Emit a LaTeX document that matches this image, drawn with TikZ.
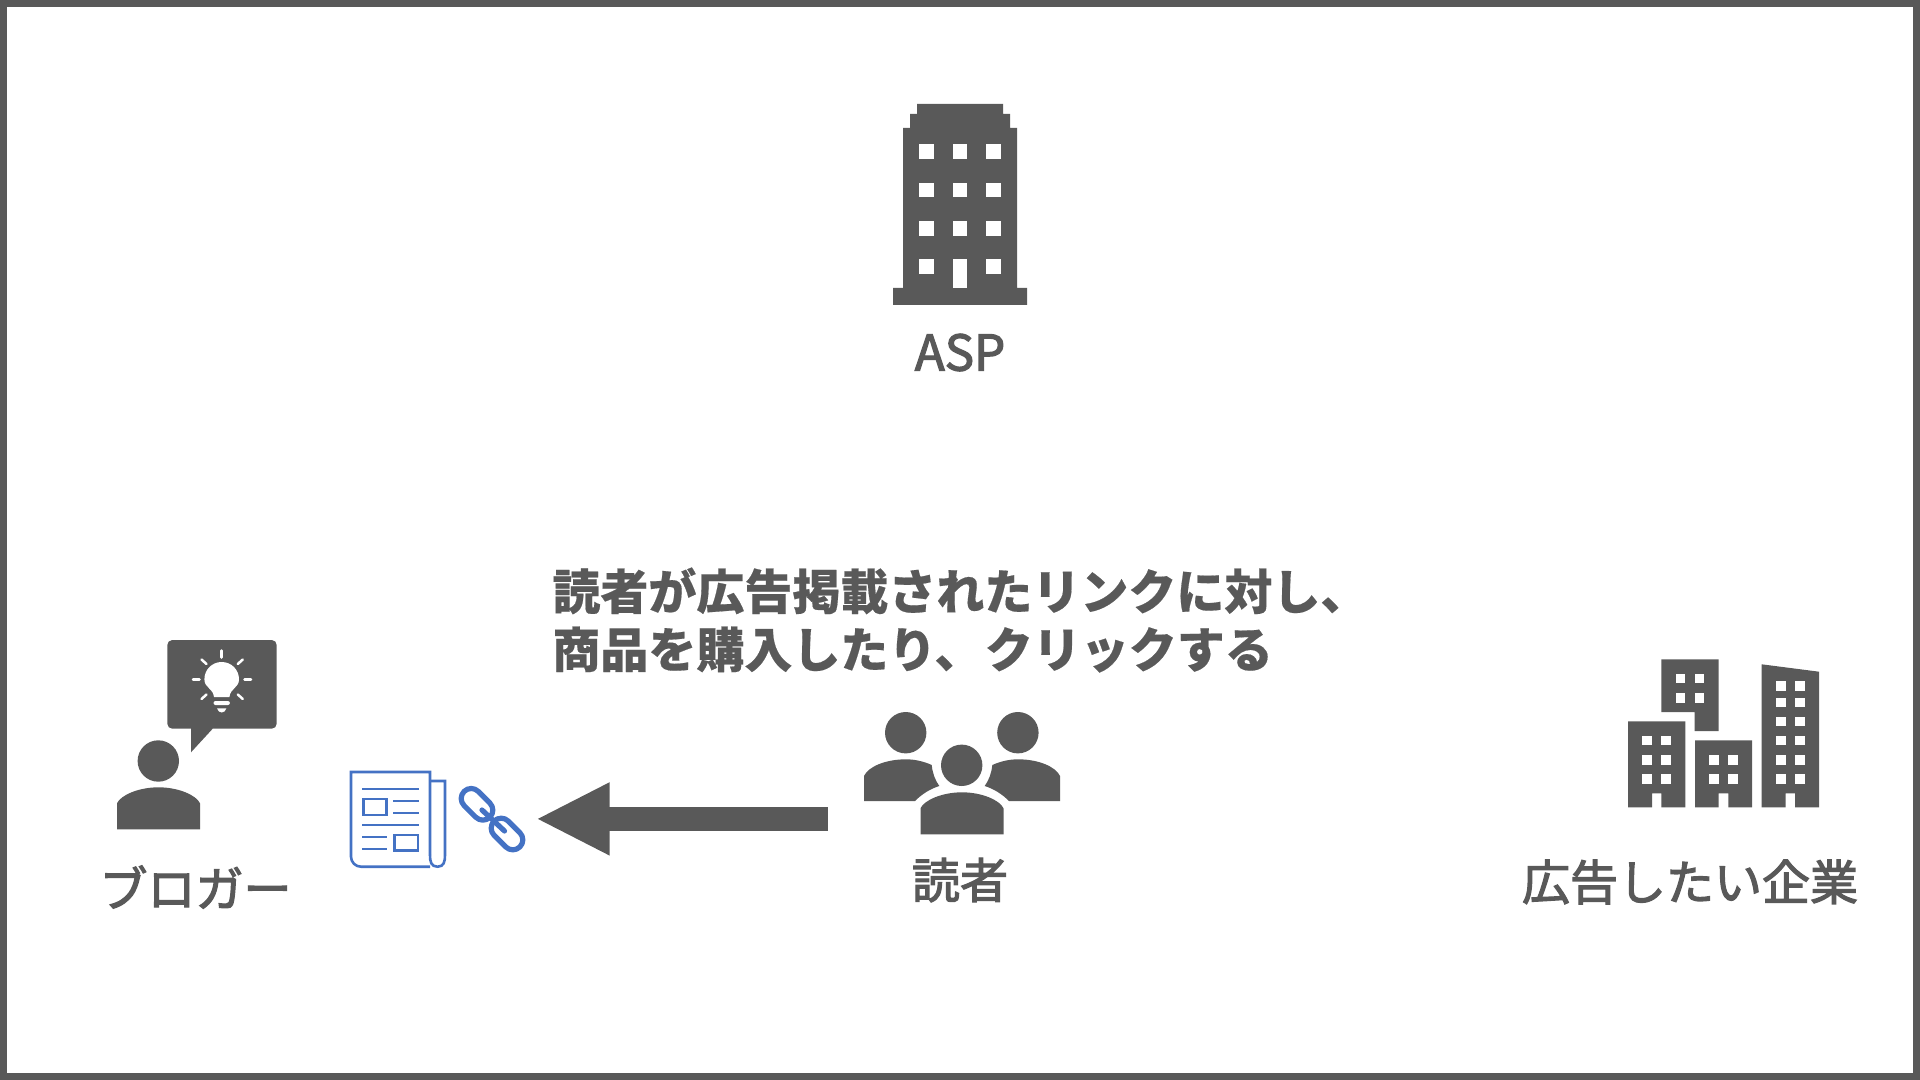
\documentclass[tikz,border=0pt]{standalone}
\usepackage{fontspec}
\usetikzlibrary{arrows.meta}
\newfontfamily\jpfont[FakeBold=0.35]{Noto Sans CJK JP}
\newfontfamily\jplabelfont[FakeBold=2.5]{Noto Sans CJK JP}
\definecolor{ink}{HTML}{595959}
\definecolor{linkblue}{HTML}{4472C4}
\tikzset{
  inkfill/.style={fill=ink,draw=none},
  hole/.style={fill=white,draw=none},
  label/.style={inner sep=0pt,text=ink,font=\jplabelfont\fontsize{24}{29}\selectfont},
  boldlabel/.style={inner sep=0pt,text=ink,align=left,font=\jpfont\bfseries\fontsize{24}{29}\selectfont},
  paper/.style={draw=linkblue,line width=1.3pt,fill=none,line join=miter},
  paperthin/.style={draw=linkblue,line width=1.2pt},
  chain/.style={draw=linkblue,line width=2.6pt,fill=none},
  ray/.style={draw=white,line width=1.25pt,line cap=round},
  blockarrow/.style={draw=ink,line width=12.15pt,-{Triangle[length=36.8pt,width=33.7pt,sep=0pt]}}
}
\newcommand{\personbody}[2]{% centre x, top y
  \fill[inkfill] (#1-41.5,#2+42) -- (#1-41.5,#2+16) .. controls (#1-38,#2+8) and (#1-20,#2) .. (#1,#2)
    .. controls (#1+20,#2) and (#1+38,#2+8) .. (#1+41.5,#2+16) -- (#1+41.5,#2+42) -- cycle;}
\newcommand{\chainring}[2]{%
  \draw[chain,line join=round] (#1+12.9,#2-1.24) .. controls (#1+16.8,#2+2.66) and (#1+16.8,#2+9) .. (#1+12.9,#2+12.9)
    .. controls (#1+9,#2+16.8) and (#1+2.66,#2+16.8) .. (#1-1.24,#2+12.9)
    -- (#1-12.9,#2+1.24) .. controls (#1-16.8,#2-2.66) and (#1-16.8,#2-9) .. (#1-12.9,#2-12.9)
    .. controls (#1-9,#2-16.8) and (#1-2.66,#2-16.8) .. (#1+1.24,#2-12.9) -- cycle;}
\begin{document}
\begin{tikzpicture}[x=0.5pt,y=-0.5pt]
\useasboundingbox (0,0) rectangle (1920,1080);
% frame
\draw[draw=ink,line width=3.5pt] (3.5,3.5) rectangle (1916.5,1076.5);

% ASP building
\fill[inkfill] (893,305) -- (893,288) -- (903,288) -- (903,128) -- (910,128) -- (910,114) -- (917,114) -- (917,104)
  -- (1003,104) -- (1003,114) -- (1010,114) -- (1010,128) -- (1017,128) -- (1017,288) -- (1027,288) -- (1027,305) -- cycle;
\foreach \wx in {919.3,952.7,986}{
  \foreach \wy in {144.5,182.7,220.8}{
    \fill[hole] (\wx,\wy) rectangle ++(14.7,14.8);
  }
}
\fill[hole] (919.3,259) rectangle ++(14.7,14.8);
\fill[hole] (986,259) rectangle ++(14.7,14.8);
\fill[hole] (952.7,259) rectangle (967.4,288);
\node[label,font=\jplabelfont\fontsize{24.6}{29}\selectfont] (asp) at (960,352.5) {ASP};

% Blogger
\fill[ink] (158.3,761) circle[radius=20.7];
\personbody{158.5}{787.3}
\fill[inkfill,rounded corners=2.5pt] (167.3,640) rectangle (276.7,728.7);
\fill[inkfill] (191,725) -- (191,752.3) -- (212.7,728.7) -- (212.7,725) -- cycle;
\fill[hole] (214,697) .. controls (213,688) and (204.4,688) .. (204.4,679.3)
  .. controls (204.4,669.7) and (212,662) .. (221.7,662)
  .. controls (231.4,662) and (239,669.7) .. (239,679.3)
  .. controls (239,688) and (230.4,688) .. (229.4,697) -- cycle;
\fill[hole,rounded corners=1pt] (213.5,701) rectangle (229.9,705);
\fill[hole] (217,708.3) -- (226.4,708.3) .. controls (225.5,711) and (224,712.5) .. (221.7,712.5) .. controls (219.4,712.5) and (218,711) .. (217,708.3) -- cycle;
\draw[ray] (221.7,650.5) -- (221.7,657.5);
\draw[ray] (193,679.3) -- (199.5,679.3);
\draw[ray] (244.5,679.3) -- (251,679.3);
\draw[ray] (201.5,659.5) -- (206.5,664);
\draw[ray] (242.8,659.5) -- (237.8,664);
\draw[ray] (201.5,699) -- (206.5,694.5);
\draw[ray] (242.8,699) -- (237.8,694.5);
\node[label] (blogger) at (195.5,887) {ブロガー};

% Newspaper
\draw[paper] (430,866.7) -- (361,866.7) .. controls (355.5,866.7) and (351,862.2) .. (351,856.7) -- (351,772) -- (430,772) -- (430,855);
\draw[paper] (430,781) -- (445,781) -- (445,855) .. controls (445,861.5) and (444,866.7) .. (437.5,866.7) .. controls (431,866.7) and (430,861.5) .. (430,855);
\draw[paperthin] (362,788.7) -- (419,788.7);
\draw[paper] (363.2,799) rectangle (386.2,815);
\draw[paperthin] (393.3,800.7) -- (419,800.7);
\draw[paperthin] (393.3,812.7) -- (419,812.7);
\draw[paperthin] (362,824.7) -- (419,824.7);
\draw[paperthin] (362,836.7) -- (387.3,836.7);
\draw[paperthin] (362,848.7) -- (387.3,848.7);
\draw[paper] (394.5,835) rectangle (418,850.7);

% Chain
\chainring{477}{804.3}
\chainring{507}{834}
\draw[chain,line cap=round] (482,810) -- (504.5,831);

% Arrow
\coordinate (arrowstart) at (827.7,818.9);
\coordinate (arrowend) at (536,818.9);
\draw[blockarrow] (arrowstart) -- (arrowend);

% Readers
\fill[ink] (905.7,732.7) circle[radius=20.7];
\fill[ink] (1017.9,732.7) circle[radius=20.7];
\fill[ink] (961.7,765.3) circle[radius=20.7];
\fill[inkfill] (864,801) -- (864,776) .. controls (868,767) and (885,759.3) .. (906,759.3)
  .. controls (915,759.3) and (924,761.5) .. (931.7,765) .. controls (932.5,773) and (935,780) .. (939.3,786)
  .. controls (930,789) and (922,794) .. (915,801) -- cycle;
\fill[inkfill] (1060,801) -- (1060,776) .. controls (1056,767) and (1039,759.3) .. (1018,759.3)
  .. controls (1009,759.3) and (1000,761.5) .. (992.3,765) .. controls (991.5,773) and (989,780) .. (984.7,786)
  .. controls (994,789) and (1002,794) .. (1009,801) -- cycle;
\personbody{962}{792.3}
\node[label] (readers) at (960,880) {読者};

% Companies
\fill[inkfill] (1628,807.3) -- (1628,721.3) -- (1685.3,721.3) -- (1685.3,807.3) -- (1661.3,807.3) -- (1661.3,793.3) -- (1652,793.3) -- (1652,807.3) -- cycle;
\foreach \wx in {1642.3,1661.3}{
  \foreach \wy in {735.7,755,774}{
    \fill[hole] (\wx,\wy) rectangle ++(9.7,9.6);
  }
}
\fill[inkfill] (1661.3,659.3) -- (1718.7,659.3) -- (1718.7,731) -- (1694.7,731) -- (1694.7,712) -- (1661.3,712) -- cycle;
\foreach \wx in {1675.7,1694.7}{
  \foreach \wy in {673.7,693}{
    \fill[hole] (\wx,\wy) rectangle ++(9.7,9.6);
  }
}
\fill[inkfill] (1695,807.3) -- (1695,740.3) -- (1752,740.3) -- (1752,807.3) -- (1728.3,807.3) -- (1728.3,793.3) -- (1718.7,793.3) -- (1718.7,807.3) -- cycle;
\foreach \wx in {1709.3,1728.3}{
  \foreach \wy in {755,774}{
    \fill[hole] (\wx,\wy) rectangle ++(9.7,9.6);
  }
}
\fill[inkfill] (1761.7,807.3) -- (1761.7,664.3) -- (1819,671.7) -- (1819,807.3) -- (1795,807.3) -- (1795,793.3) -- (1785.7,793.3) -- (1785.7,807.3) -- cycle;
\foreach \wx in {1776,1795}{
  \foreach \wy in {681,697.8,716.7,735.7,755,774}{
    \fill[hole] (\wx,\wy) rectangle ++(9.7,9.6);
  }
}
\node[label] (company) at (1690,882) {広告したい企業};

% Caption
\node[boldlabel,anchor=west] (caption) at (552,620) {読者が広告掲載されたリンクに対し、\\商品を購入したり、\kern1.2pt クリックする};
\end{tikzpicture}
\end{document}
